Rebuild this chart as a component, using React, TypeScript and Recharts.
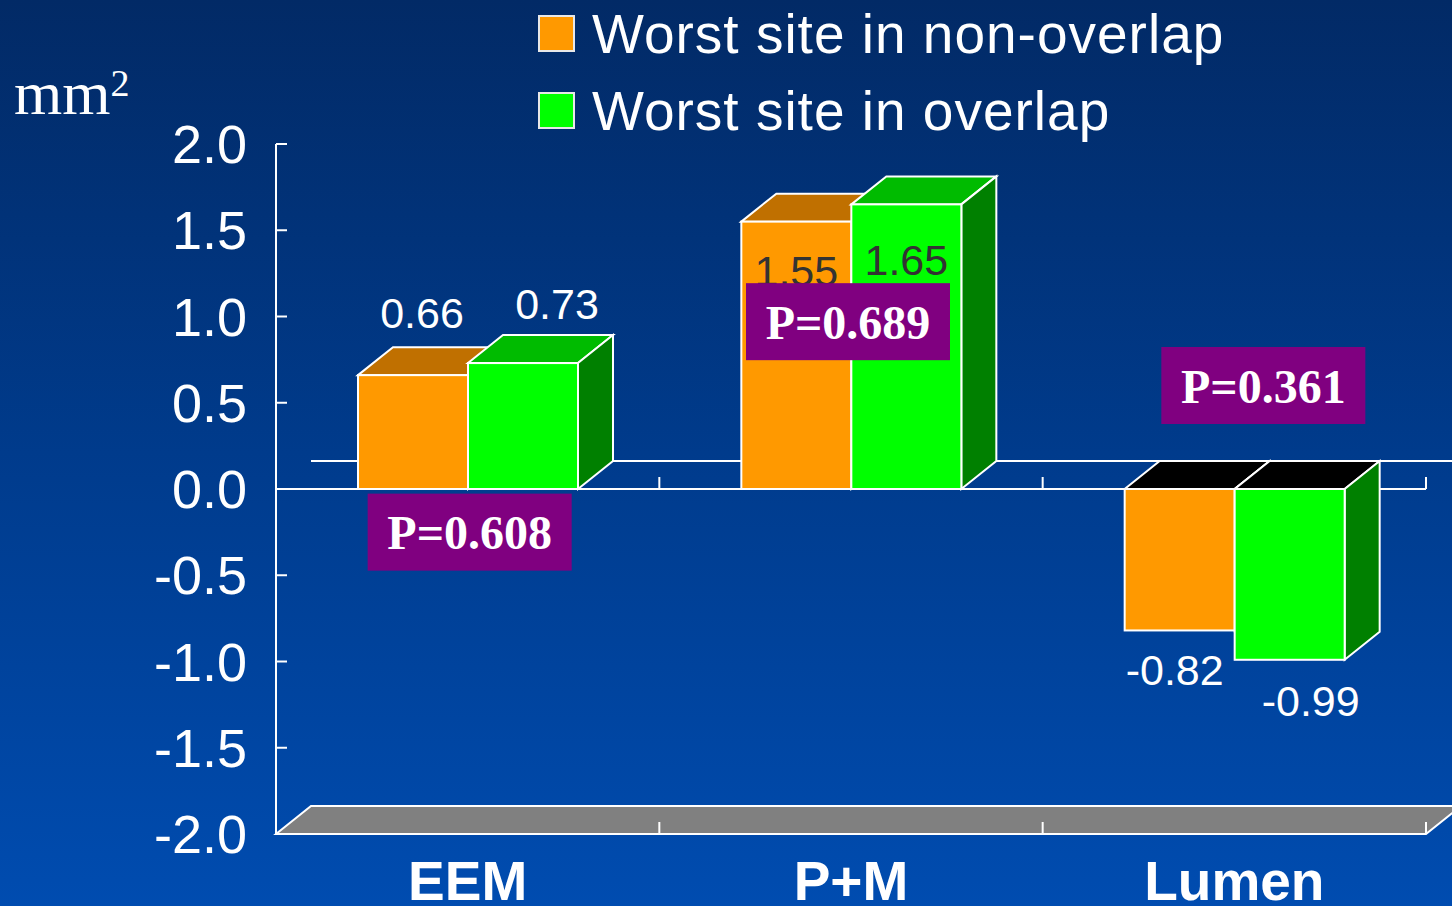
import React from 'react';
import {
  Bar,
  BarChart,
  LabelList,
  Legend,
  ReferenceDot,
  ReferenceLine,
  XAxis,
  YAxis,
} from 'recharts';

// values in mm2
const categories = ['EEM', 'P+M', 'Lumen'];
const nonOverlap = [0.66, 1.55, -0.82];
const overlap = [0.73, 1.65, -0.99];
const pLabels = ['P=0.608', 'P=0.689', 'P=0.361'];
const pLabelY = [-0.25, 0.97, 0.6];
const yTicks = [-2, -1.5, -1, -0.5, 0, 0.5, 1, 1.5, 2];

const data = categories.map((name, i) => ({
  name,
  nonOverlap: nonOverlap[i],
  overlap: overlap[i],
}));

const W = 1452;
const H = 906;
const DX = 35;
const DY = 28;
const SANS = '"Liberation Sans", Arial, sans-serif';
const SERIF = '"Liberation Serif", "Times New Roman", serif';

// label placement per category (offset from bar centre / edge)
const series = [
  {
    key: 'nonOverlap',
    name: 'Worst site in non-overlap',
    front: '#FF9900',
    top: '#C07000',
    side: '#B86C00',
    labels: [
      { dx: 9, edge: 'top', dy: -47, color: '#ffffff' },
      { dx: 0, edge: 'top', dy: 64, color: '#333333' },
      { dx: -5, edge: 'bottom', dy: 55, color: '#ffffff' },
    ],
  },
  {
    key: 'overlap',
    name: 'Worst site in overlap',
    front: '#00FF00',
    top: '#00BB00',
    side: '#008000',
    labels: [
      { dx: 34, edge: 'top', dy: -44, color: '#ffffff' },
      { dx: 0, edge: 'top', dy: 71, color: '#333333' },
      { dx: 21, edge: 'bottom', dy: 56, color: '#ffffff' },
    ],
  },
];
const pBoxDx = [2, -3, 29];

type S = (typeof series)[number];

function Box3D(props: any) {
  const { x, y, width, height, s } = props as { x: number; y: number; width: number; height: number; s: S };
  const v = props.payload ? props.payload[s.key] : 0;
  const a = Math.min(y, y + height);
  const b = Math.max(y, y + height);
  const neg = v < 0;
  const r = x + width;
  const line = { stroke: '#ffffff', strokeWidth: 2, strokeLinejoin: 'miter' as const };
  return (
    <g>
      <polygon
        points={`${x},${a} ${x + DX},${a - DY} ${r + DX},${a - DY} ${r},${a}`}
        fill={neg ? '#000000' : s.top}
        {...line}
      />
      <polygon
        points={`${r},${a} ${r + DX},${a - DY} ${r + DX},${b - DY} ${r},${b}`}
        fill={s.side}
        {...line}
      />
      <rect x={x} y={a} width={width} height={b - a} fill={s.front} {...line} />
    </g>
  );
}

const valueLabel = (s: S) => (p: any) => {
  const vb = p.viewBox ?? p;
  const x = p.x ?? vb.x;
  const y = p.y ?? vb.y;
  const w = p.width ?? vb.width;
  const h = p.height ?? vb.height;
  const i = p.index ?? 0;
  const cfg = s.labels[i];
  if (!cfg) return null;
  const a = Math.min(y, y + h);
  const b = Math.max(y, y + h);
  const base = cfg.edge === 'top' ? a : b;
  return (
    <text
      x={x + w / 2 + cfg.dx}
      y={base + cfg.dy}
      textAnchor="middle"
      fill={cfg.color}
      fontFamily={SANS}
      fontSize={43}
    >
      {Number(p.value).toFixed(2)}
    </text>
  );
};

function ZeroPlane(p: any) {
  const { x1, x2, y1 } = p;
  const step = (x2 - x1) / categories.length;
  const marks = categories.map((_, i) => x1 + step * (i + 1));
  return (
    <g>
      <line x1={x1 + DX} y1={y1 - DY} x2={x2 + DX} y2={y1 - DY} stroke="#ffffff" strokeWidth={2} />
      <line x1={x1} y1={y1} x2={x2} y2={y1} stroke="#ffffff" strokeWidth={2} />
      {marks.map((mx) => (
        <line key={mx} x1={mx} y1={y1} x2={mx} y2={y1 - 12} stroke="#ffffff" strokeWidth={2} />
      ))}
    </g>
  );
}

function Floor(p: any) {
  const { x1, x2, y1 } = p;
  const step = (x2 - x1) / categories.length;
  const marks = categories.map((_, i) => x1 + step * (i + 1));
  return (
    <g>
      <polygon
        points={`${x1},${y1} ${x1 + DX},${y1 - DY} ${x2 + DX},${y1 - DY} ${x2},${y1}`}
        fill="#808080"
        stroke="#ffffff"
        strokeWidth={2}
      />
      {marks.map((mx) => (
        <line key={mx} x1={mx} y1={y1} x2={mx} y2={y1 - 12} stroke="#ffffff" strokeWidth={2} />
      ))}
    </g>
  );
}

const pBox = (i: number) => (p: any) => {
  const cx = p.cx + pBoxDx[i];
  const cy = p.cy;
  return (
    <g>
      <rect x={cx - 102} y={cy - 38.5} width={204} height={77} fill="#800080" />
      <text
        x={cx}
        y={cy + 17}
        textAnchor="middle"
        fill="#ffffff"
        fontFamily={SERIF}
        fontWeight="bold"
        fontSize={48}
      >
        {pLabels[i]}
      </text>
    </g>
  );
};

function YTick(p: any) {
  const { x, y, payload } = p;
  return (
    <g>
      <line x1={x} y1={y} x2={x + 11} y2={y} stroke="#ffffff" strokeWidth={2} />
      <text x={x - 29} y={y + 19} textAnchor="end" fill="#ffffff" fontFamily={SANS} fontSize={54}>
        {Number(payload.value).toFixed(1)}
      </text>
    </g>
  );
}

function XTick(p: any) {
  const { x, y, payload } = p;
  return (
    <text x={x} y={y + 66} textAnchor="middle" fill="#ffffff" fontFamily={SANS} fontWeight="bold" fontSize={55}>
      {payload.value}
    </text>
  );
}

function LegendBox() {
  return (
    <div style={{ fontFamily: SANS, color: '#ffffff' }}>
      {series.map((s) => (
        <div key={s.key} style={{ display: 'flex', alignItems: 'center', height: 77 }}>
          <div
            style={{
              width: 33,
              height: 33,
              background: s.front,
              border: '2px solid #e8e8e8',
              marginRight: 17,
            }}
          />
          <span style={{ fontSize: 55, letterSpacing: 1, whiteSpace: 'nowrap' }}>{s.name}</span>
        </div>
      ))}
    </div>
  );
}

export default function App() {
  return (
    <div
      style={{
        position: 'fixed',
        left: 0,
        top: 0,
        width: W,
        height: H,
        overflow: 'hidden',
        background: 'linear-gradient(to bottom, #022A66 0%, #003B8C 50%, #004CB0 100%)',
      }}
    >
      <div
        style={{
          position: 'absolute',
          left: 14,
          top: 62,
          fontFamily: SERIF,
          fontSize: 62,
          color: '#ffffff',
          lineHeight: 1,
        }}
      >
        mm<sup style={{ fontSize: 38, verticalAlign: 'top', position: 'relative', top: 2 }}>2</sup>
      </div>
      <BarChart
        width={W}
        height={H}
        data={data}
        margin={{ top: 144, right: 26, bottom: 0, left: 216 }}
        barGap={0}
        barSize={110}
      >
        <XAxis
          dataKey="name"
          axisLine={false}
          tickLine={false}
          tickSize={0}
          tickMargin={0}
          height={72}
          tick={<XTick />}
          interval={0}
        />
        <YAxis
          domain={[-2, 2]}
          ticks={yTicks}
          width={60}
          axisLine={{ stroke: '#ffffff', strokeWidth: 2 }}
          tickLine={false}
          tickSize={0}
          tickMargin={0}
          tick={<YTick />}
          allowDataOverflow
        />
        <Legend
          layout="horizontal"
          verticalAlign="middle"
          align="center"
          wrapperStyle={{ top: -5, left: 538, width: 880, height: 160 }}
          content={<LegendBox />}
        />
        <ReferenceLine y={-2} shape={(p: any) => <Floor {...p} />} zIndex={-40} />
        <ReferenceLine y={0} shape={(p: any) => <ZeroPlane {...p} />} zIndex={-30} />
        {series.map((s) => (
          <Bar
            key={s.key}
            dataKey={s.key}
            name={s.name}
            fill={s.front}
            isAnimationActive={false}
            shape={(p: any) => <Box3D {...p} s={s} />}
          >
            <LabelList dataKey={s.key} content={valueLabel(s)} />
          </Bar>
        ))}
        {categories.map((c, i) => (
          <ReferenceDot
            key={c}
            x={c}
            y={pLabelY[i]}
            r={1}
            zIndex={2500}
            shape={pBox(i)}
          />
        ))}
      </BarChart>
    </div>
  );
}
